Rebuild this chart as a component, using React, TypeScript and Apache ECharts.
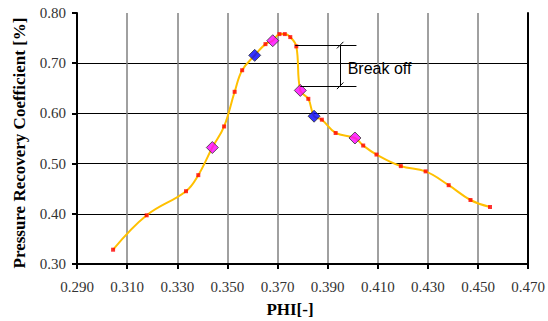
import React, { useEffect, useRef } from "react";
import * as echarts from "echarts";

// Red measured points (PHI, coefficient)
const redPhi = [0.3044, 0.3178, 0.3335, 0.3384, 0.3487, 0.3529, 0.3559, 0.3652, 0.3708, 0.3729, 0.3751, 0.3775, 0.3823, 0.3877, 0.3932, 0.4042, 0.4095, 0.4192, 0.4291, 0.4383, 0.4470, 0.4548];
const redCoef = [0.3285, 0.397, 0.445, 0.477, 0.574, 0.643, 0.686, 0.738, 0.758, 0.758, 0.752, 0.7335, 0.629, 0.5875, 0.561, 0.536, 0.518, 0.495, 0.4845, 0.457, 0.4275, 0.4135];

// Magenta diamonds
const magentaPhi = [0.3440, 0.3681, 0.3791, 0.4009];
const magentaCoef = [0.532, 0.7448, 0.6458, 0.551];

// Blue diamonds
const bluePhi = [0.3609, 0.3846];
const blueCoef = [0.7156, 0.5944];

// Axis ticks
const xTicks = [0.29, 0.31, 0.33, 0.35, 0.37, 0.39, 0.41, 0.43, 0.45, 0.47];
const yTicks = [0.3, 0.4, 0.5, 0.6, 0.7, 0.8];

// "Break off" annotation (data coordinates)
const breakUpper = 0.736;
const breakLower = 0.655;
const breakUpperFrom = 0.3771;
const breakLowerFrom = 0.3791;
const breakTo = 0.4015;
const breakBarPhi = 0.395;
const breakLabelPhi = 0.398;
const breakLabelCoef = 0.6904;
const breakLabel = "Break off";

export default function App() {
  const ref = useRef<HTMLDivElement>(null);
  useEffect(() => {
    if (!ref.current) return;
    const chart = echarts.init(ref.current, null, { renderer: "svg" });

    const red = redPhi.map((p, i) => [p, redCoef[i]]);
    const mag = magentaPhi.map((p, i) => [p, magentaCoef[i]]);
    const blu = bluePhi.map((p, i) => [p, blueCoef[i]]);
    const all = [...red, ...mag, ...blu].sort((a, b) => a[0] - b[0]);

    const seg = (x1: number, y1: number, x2: number, y2: number) => [
      { coord: [x1, y1] },
      { coord: [x2, y2] },
    ];
    const dx = 0.0013;
    const dy = 0.0066;

    const serif = "Liberation Serif";

    chart.setOption({
      animation: false,
      backgroundColor: "#ffffff",
      grid: { left: 77, right: 17, top: 13, bottom: 57, containLabel: false },
      xAxis: {
        type: "value",
        min: xTicks[0],
        max: xTicks[xTicks.length - 1],
        interval: 0.02,
        axisLine: { show: true, lineStyle: { color: "#000", width: 2 } },
        axisTick: { show: true, length: 5, lineStyle: { color: "#000", width: 2 } },
        axisLabel: {
          margin: 15,
          color: "#333",
          fontFamily: serif,
          fontSize: 15,
          formatter: (v: number) => v.toFixed(3),
        },
        splitLine: {
          show: true,
          showMinLine: false,
          showMaxLine: false,
          lineStyle: { color: "#808080", width: 1.5 },
        },
      },
      yAxis: [
        {
          type: "value",
          min: yTicks[0],
          max: yTicks[yTicks.length - 1],
          interval: 0.1,
          axisLine: { show: true, lineStyle: { color: "#000", width: 2 } },
          axisTick: { show: true, length: 5, lineStyle: { color: "#000", width: 2 } },
          axisLabel: {
            margin: 11,
            color: "#333",
            fontFamily: serif,
            fontSize: 15,
            formatter: (v: number) => v.toFixed(2),
          },
          splitLine: {
            show: true,
            showMinLine: false,
            showMaxLine: false,
            lineStyle: { color: "#000", width: 1 },
          },
        },
        {
          type: "value",
          position: "right",
          min: yTicks[0],
          max: yTicks[yTicks.length - 1],
          interval: 0.1,
          axisLine: { show: true, lineStyle: { color: "#000", width: 2 } },
          axisTick: { show: false },
          axisLabel: { show: false },
          splitLine: { show: false },
        },
      ],
      series: [
        {
          type: "line",
          data: all,
          smooth: 0.4,
          showSymbol: false,
          lineStyle: { color: "#FFC000", width: 2 },
          z: 2,
          markLine: {
            silent: true,
            symbol: "none",
            label: { show: false },
            lineStyle: { color: "#000", width: 1, type: "solid" },
            data: [
              seg(breakUpperFrom, breakUpper, breakTo, breakUpper),
              seg(breakLowerFrom, breakLower, breakTo, breakLower),
              seg(breakBarPhi, breakUpper, breakBarPhi, breakLower),
              seg(breakBarPhi - dx, breakUpper - dy, breakBarPhi + dx, breakUpper + dy),
              seg(breakBarPhi - dx, breakLower - dy, breakBarPhi + dx, breakLower + dy),
            ],
          },
          markPoint: {
            silent: true,
            symbol: "circle",
            symbolSize: 0,
            data: [{ coord: [breakLabelPhi, breakLabelCoef] }],
            label: {
              show: true,
              position: "right",
              distance: 0,
              formatter: breakLabel,
              color: "#000",
              fontFamily: "Liberation Sans",
              fontSize: 16,
            },
          },
        },
        {
          type: "scatter",
          data: red,
          symbol: "rect",
          symbolSize: 4,
          itemStyle: { color: "#FF0000" },
          z: 3,
        },
        {
          type: "scatter",
          data: mag,
          symbol: "diamond",
          symbolSize: 12,
          itemStyle: { color: "#FF00FF", borderColor: "#333", borderWidth: 1 },
          z: 4,
        },
        {
          type: "scatter",
          data: blu,
          symbol: "diamond",
          symbolSize: 12,
          itemStyle: { color: "#0000FF", borderColor: "#333", borderWidth: 1 },
          z: 4,
        },
      ],
      graphic: [
        {
          type: "text",
          x: 19,
          y: 143,
          rotation: Math.PI / 2,
          style: {
            text: "Pressure Recovery Coefficient [%]",
            font: "bold 17px Liberation Serif",
            fill: "#000",
            align: "center",
            verticalAlign: "middle",
          },
        },
        {
          type: "text",
          x: 290,
          y: 309,
          style: {
            text: "PHI[-]",
            font: "bold 17px Liberation Serif",
            fill: "#000",
            align: "center",
            verticalAlign: "middle",
          },
        },
      ],
    });
    return () => chart.dispose();
  }, []);
  return (
    <div
      ref={ref}
      style={{ position: "fixed", left: 0, top: 0, width: 548, height: 321, background: "#fff" }}
    />
  );
}
